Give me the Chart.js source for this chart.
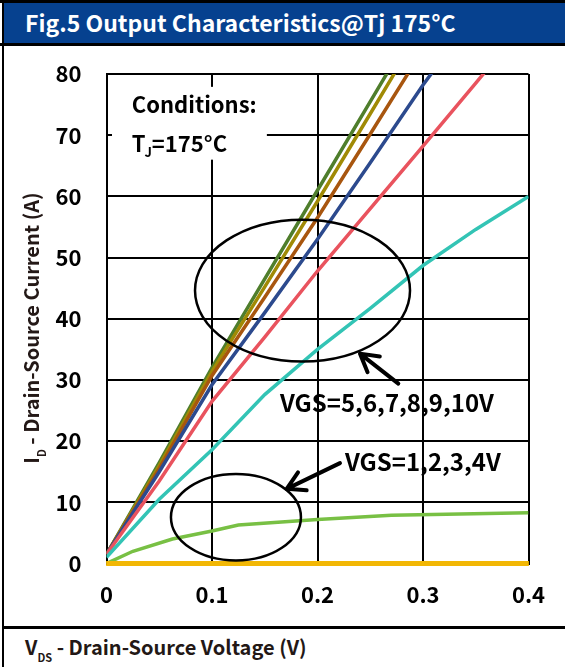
<!DOCTYPE html>
<html>
<head>
<meta charset="utf-8">
<script src="https://cdn.jsdelivr.net/npm/chart.js@4.4.1/dist/chart.umd.min.js"></script>
<style>
    body { margin: 0; background: #fff; }
    #page {
        position: relative;
        width: 565px;
        height: 667px;
        overflow: hidden;
        font-family: "Noto Sans CJK SC", "Noto Sans", sans-serif;
        font-weight: bold;
    }
    .rule { position: absolute; background: #000; }
    #titleBar {
        position: absolute; left: 4px; top: 3px; right: 0; height: 40px;
        background: #06418f;
    }
    #titleText {
        position: absolute; left: 25px; top: 2px; height: 40px; line-height: 40px;
        color: #fff; font-size: 23px; white-space: nowrap;
    }
    #xTitle {
        position: absolute; left: 25px; top: 635px; line-height: 24px;
        font-size: 20px; color: #231816; white-space: nowrap;
    }
    #yTitle {
        position: absolute; left: -139px; top: 316px; width: 340px; height: 24px;
        line-height: 24px; text-align: center; font-size: 20px; color: #231816;
        white-space: nowrap; transform: rotate(-90deg);
    }
    .sub { font-size: 11px; position: relative; top: 7px; }
    #chartBox { position: absolute; left: 5px; top: 46px; }
</style>
</head>
<body>
<div id="page">
    <div id="titleBar"></div>
    <div id="titleText">Fig.5 Output Characteristics@Tj 175°C</div>
    <div class="rule" style="left:0;top:0;width:565px;height:3px"></div>
    <div class="rule" style="left:0;top:43px;width:565px;height:3px"></div>
    <div class="rule" style="left:2px;top:0;width:2px;height:667px"></div>
    <div class="rule" style="left:2px;top:626px;width:563px;height:3px"></div>
    <div id="chartBox"><canvas id="outputChart" width="560" height="580"></canvas></div>
    <div id="xTitle">V<span class="sub">DS</span> - Drain-Source Voltage (V)</div>
    <div id="yTitle">I<span class="sub">D</span> - Drain-Source Current (A)</div>
</div>

<script>
// V_DS sample points (V)
const vdsSteep = [0, 0.05, 0.1, 0.15, 0.2, 0.25, 0.3, 0.35, 0.4];
const vdsVgs4 = [0, 0.025, 0.0625, 0.1, 0.125, 0.2, 0.27, 0.4];
const vdsOff = [0, 0.1, 0.2, 0.3, 0.4];

// I_D (A)
const idVgs10 = [1.5, 16.5, 32, 46.5, 61, 75.5, 90];
const idVgs9 = [1.5, 16, 31.4, 45.2, 59.2, 73.5, 87.9];
const idVgs8 = [1.5, 15.5, 30.7, 43.5, 56.5, 70.2, 84];
const idVgs7 = [1.5, 15, 29.2, 41, 53, 65.5, 78.2, 90];
const idVgs6 = [1.5, 13.5, 26.5, 37, 47.8, 58, 68.2, 78.5, 89];
const idVgs5 = [1, 10.5, 18.6, 27.6, 35, 41.7, 48.7, 54.6, 60];
const idVgs4 = [0, 2.0, 4.0, 5.3, 6.3, 7.2, 7.9, 8.3];
const idVgs1to3 = [0, 0, 0, 0, 0];

const xTickLabels = ['0', '0.1', '0.2', '0.3', '0.4'];
const yTickLabels = ['0', '10', '20', '30', '40', '50', '60', '70', '80'];

function points(xs, ys) {
    return ys.map((v, i) => ({x: xs[i], y: v}));
}

function curve(label, xs, ys, color, extra) {
    return Object.assign({
        label: label,
        data: points(xs, ys),
        borderColor: color,
        borderWidth: 3.5,
        pointRadius: 0,
        tension: 0
    }, extra || {});
}

const font = '"Noto Sans CJK SC", "Noto Sans", sans-serif';

// annotation spots, in data units
const condBox = {x0: 0.0052, x1: 0.152, y0: 66, y1: 77.9};
const upperRing = {x: 0.1858, y: 44.6, rx: 0.1019, ry: 11.6};
const lowerRing = {x: 0.1227, y: 7.56, rx: 0.0616, ry: 7.07};
const upperArrow = {x0: 0.2766, y0: 29.4, x1: 0.2403, y1: 34.3};
const lowerArrow = {x0: 0.2213, y0: 16.4, x1: 0.1708, y1: 12.2};

function arrow(ctx, x, y, a) {
    let x0 = x.getPixelForValue(a.x0), y0 = y.getPixelForValue(a.y0),
        x1 = x.getPixelForValue(a.x1), y1 = y.getPixelForValue(a.y1),
        back = Math.atan2(y0 - y1, x0 - x1);

    ctx.beginPath();
    ctx.moveTo(x0, y0);
    ctx.lineTo(x1, y1);
    [-0.52, 0.52].forEach(d => {
        ctx.moveTo(x1, y1);
        ctx.lineTo(x1 + 20 * Math.cos(back + d), y1 + 20 * Math.sin(back + d));
    });
    ctx.stroke();
}

function ring(ctx, x, y, r) {
    let cx = x.getPixelForValue(r.x), cy = y.getPixelForValue(r.y),
        rx = x.getPixelForValue(r.x + r.rx) - cx,
        ry = cy - y.getPixelForValue(r.y + r.ry);

    ctx.beginPath();
    ctx.ellipse(cx, cy, rx, ry, 0, 0, Math.PI * 2);
    ctx.stroke();
}

const notes = {
    id: 'notes',
    beforeDatasetsDraw(chart) {
        const {ctx, scales: {x, y}} = chart;
        ctx.save();
        ctx.fillStyle = '#fff';
        let l = x.getPixelForValue(condBox.x0), r = x.getPixelForValue(condBox.x1),
            t = y.getPixelForValue(condBox.y1), b = y.getPixelForValue(condBox.y0);
        ctx.fillRect(l, t, r - l, b - t);

        ctx.fillStyle = '#000';
        ctx.textBaseline = 'alphabetic';
        ctx.font = 'bold 22px ' + font;
        let tx = x.getPixelForValue(0.0239);
        ctx.fillText('Conditions:', tx, y.getPixelForValue(73.6));
        let by = y.getPixelForValue(67.2);
        ctx.fillText('T', tx, by);
        let w = ctx.measureText('T').width;
        ctx.font = 'bold 13px ' + font;
        ctx.fillText('J', tx + w - 1, by + 5);
        let wj = ctx.measureText('J').width;
        ctx.font = 'bold 22px ' + font;
        ctx.fillText('=175°C', tx + w + wj - 1, by);
        ctx.restore();
    },
    afterDatasetsDraw(chart) {
        const {ctx, scales: {x, y}} = chart;
        ctx.save();
        ctx.strokeStyle = '#000';
        ctx.lineWidth = 2.5;
        ring(ctx, x, y, upperRing);
        ring(ctx, x, y, lowerRing);

        ctx.lineWidth = 4;
        ctx.lineCap = 'round';
        arrow(ctx, x, y, upperArrow);
        arrow(ctx, x, y, lowerArrow);

        ctx.fillStyle = '#000';
        ctx.font = 'bold 24px ' + font;
        ctx.fillText('VGS=5,6,7,8,9,10V', x.getPixelForValue(0.1645), y.getPixelForValue(24.8));
        ctx.fillText('VGS=1,2,3,4V', x.getPixelForValue(0.2261), y.getPixelForValue(15.1));
        ctx.restore();
    }
};

const ctx = document.getElementById('outputChart');

new Chart(ctx, {
    type: 'line',
    data: {
        datasets: [
            curve('VGS=1V', vdsOff, idVgs1to3, '#f2b705', {borderWidth: 5, clip: false}),
            curve('VGS=2V', vdsOff, idVgs1to3, '#f2b705', {borderWidth: 5, clip: false}),
            curve('VGS=3V', vdsOff, idVgs1to3, '#f2b705', {borderWidth: 5, clip: false}),
            curve('VGS=4V', vdsVgs4, idVgs4, '#78c044'),
            curve('VGS=5V', vdsSteep, idVgs5, '#33c4b5'),
            curve('VGS=6V', vdsSteep, idVgs6, '#e9535e'),
            curve('VGS=7V', vdsSteep, idVgs7, '#2c4a8e'),
            curve('VGS=8V', vdsSteep, idVgs8, '#a8560f'),
            curve('VGS=9V', vdsSteep, idVgs9, '#a08a05'),
            curve('VGS=10V', vdsSteep, idVgs10, '#4f7e2c')
        ]
    },
    options: {
        responsive: false,
        animation: false,
        devicePixelRatio: 1,
        layout: {
            padding: {top: 28, right: 36.5, left: 0, bottom: 0}
        },
        plugins: {
            legend: {display: false},
            tooltip: {enabled: false}
        },
        scales: {
            x: {
                type: 'linear',
                min: 0,
                max: 0.4,
                afterFit: s => { s.height = 62.5; },
                ticks: {
                    stepSize: 0.1,
                    padding: 18,
                    color: '#000',
                    font: {family: font, size: 22, weight: 'bold'},
                    callback: (v, i) => xTickLabels[i]
                },
                grid: {color: '#000', lineWidth: 2, drawTicks: false},
                border: {color: '#000', width: 2}
            },
            y: {
                min: 0,
                max: 80,
                afterFit: s => {
                    s.width = 101.5;
                    s.paddingTop = 0;
                    s.paddingBottom = 0;
                },
                ticks: {
                    stepSize: 10,
                    padding: 25,
                    color: '#000',
                    font: {family: font, size: 22, weight: 'bold'},
                    callback: (v, i) => yTickLabels[i]
                },
                grid: {color: '#000', lineWidth: 2, drawTicks: false},
                border: {color: '#000', width: 2}
            }
        }
    },
    plugins: [notes]
});
</script>
</body>
</html>
